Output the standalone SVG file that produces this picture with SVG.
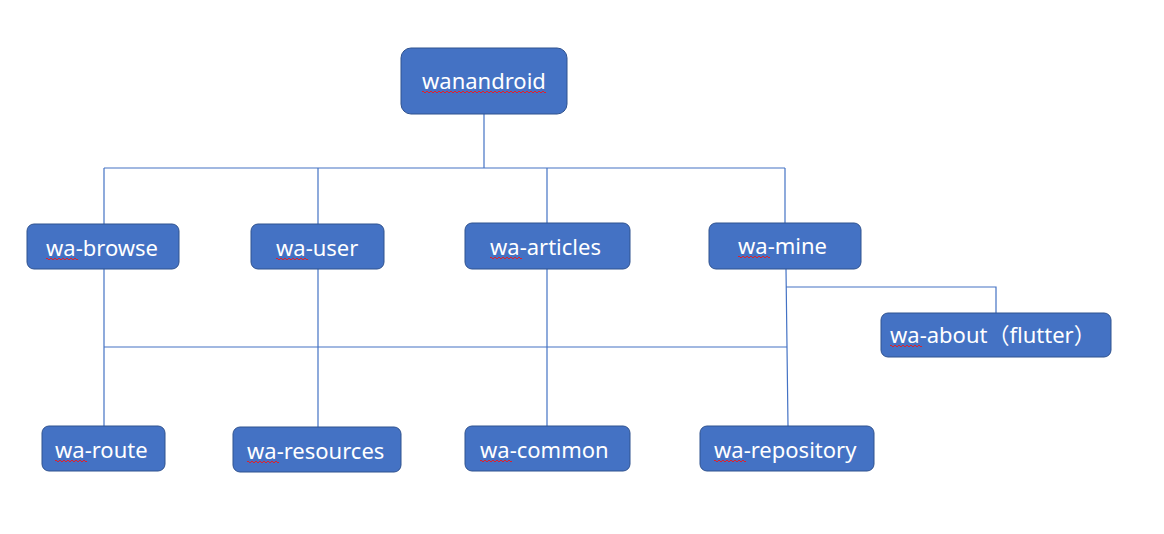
<svg xmlns="http://www.w3.org/2000/svg" width="1164" height="534" viewBox="0 0 1164 534">
<style>
.node rect{fill:#4472C4;stroke:#2F528F;stroke-width:1}
.node text{fill:#FFFFFF;font-family:"Noto Sans","Noto Sans CJK SC",sans-serif;font-size:22px;word-spacing:0}
.conn{fill:none;stroke:#4472C4;stroke-width:1.2}
.sq{fill:none;stroke:#E0202A;stroke-width:1}
</style>
<defs>
<path id="wa" class="sq" d="M0,0 q1,-2 2,0 t2,0 t2,0 t2,0 t2,0 t2,0 t2,0 t2,0 t2,0 t2,0 t2,0 t2,0 t2,0 t2,0 t2,0 t2,0"/>
</defs>
<rect width="1164" height="534" fill="#FFFFFF"/>
<g id="connectors" class="conn">
<path d="M484,114 V168"/>
<path d="M104,168 H785"/>
<path d="M104,168 V224"/>
<path d="M318,168 V224"/>
<path d="M547,168 V223"/>
<path d="M785,168 V223"/>
<path d="M104,269 V426"/>
<path d="M318,269 V427"/>
<path d="M547,269 V426"/>
<path d="M786,269 L787,347 L788,426"/>
<path d="M104,347 H787"/>
<path d="M786,287 H996 V313"/>
</g>
<g id="n-wanandroid" class="node"><rect x="401" y="48" width="166" height="66" rx="10"/><text x="422" y="89">wanandroid</text><path class="sq" d="M422,92 q1,-2 2,0 t2,0 t2,0 t2,0 t2,0 t2,0 t2,0 t2,0 t2,0 t2,0 t2,0 t2,0 t2,0 t2,0 t2,0 t2,0 t2,0 t2,0 t2,0 t2,0 t2,0 t2,0 t2,0 t2,0 t2,0 t2,0 t2,0 t2,0 t2,0 t2,0 t2,0 t2,0 t2,0 t2,0 t2,0 t2,0 t2,0 t2,0 t2,0 t2,0 t2,0 t2,0 t2,0 t2,0 t2,0 t2,0 t2,0 t2,0 t2,0 t2,0 t2,0 t2,0 t2,0 t2,0 t2,0 t2,0 t2,0 t2,0 t2,0 t2,0 t2,0 t2,0"/></g>
<g id="n-browse" class="node"><rect x="27" y="224" width="152" height="45" rx="7"/><text x="46" y="256">wa-browse</text><use href="#wa" x="46" y="259"/></g>
<g id="n-user" class="node"><rect x="251" y="224" width="133" height="45" rx="7"/><text x="276" y="256">wa-user</text><use href="#wa" x="276" y="259"/></g>
<g id="n-articles" class="node"><rect x="465" y="223" width="165" height="46" rx="7"/><text x="490" y="255">wa-articles</text><use href="#wa" x="490" y="258"/></g>
<g id="n-mine" class="node"><rect x="709" y="223" width="152" height="46" rx="7"/><text x="738" y="254">wa-mine</text><use href="#wa" x="738" y="257"/></g>
<g id="n-about" class="node"><rect x="881" y="313" width="230" height="44" rx="7"/><text x="890" y="343">wa-about（flutter）</text><use href="#wa" x="890" y="346"/></g>
<g id="n-route" class="node"><rect x="42" y="426" width="123" height="45" rx="7"/><text x="55" y="458">wa-route</text><use href="#wa" x="55" y="461"/></g>
<g id="n-resources" class="node"><rect x="233" y="427" width="168" height="45" rx="7"/><text x="247" y="459">wa-resources</text><use href="#wa" x="247" y="462"/></g>
<g id="n-common" class="node"><rect x="465" y="426" width="165" height="45" rx="7"/><text x="480" y="458">wa-common</text><use href="#wa" x="480" y="461"/></g>
<g id="n-repository" class="node"><rect x="700" y="426" width="174" height="45" rx="7"/><text x="714" y="458">wa-repository</text><use href="#wa" x="714" y="461"/></g>
</svg>
